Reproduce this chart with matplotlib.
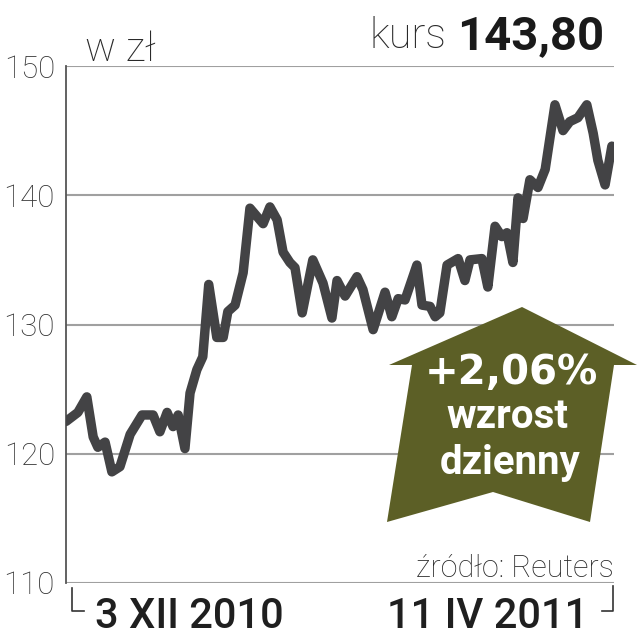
import matplotlib
matplotlib.use("Agg")
import matplotlib.pyplot as plt
from matplotlib.patches import Polygon
from matplotlib.lines import Line2D

# dni od 3 XII 2010 i kurs w zł
days = [0, 2.8, 4.9, 6.4, 7.5, 9.2, 10.8, 12.7, 15.1, 17.9, 20.5, 22.1, 23.8,
        25.2, 26.4, 28.0, 29.2, 30.8, 32.2, 33.6, 35.5, 37.0, 38.1, 39.8,
        41.7, 43.3, 46.4, 48.0, 49.7, 51.1, 52.7, 53.9, 55.6, 58.1, 60.5,
        62.6, 63.8, 65.7, 68.5, 69.9, 72.3, 75.1, 76.7, 78.2, 79.8, 82.6,
        83.8, 85.7, 86.9, 88.0, 89.7, 92.3, 93.9, 95.1, 97.9, 99.3, 101.0,
        102.6, 103.8, 105.2, 106.4, 107.6, 109.2, 111.1, 112.8, 115.1, 117.0,
        118.6, 120.5, 122.6, 124.1, 125.2, 126.9, 128.5]
price = [122.5, 123.2, 124.4, 121.3, 120.5, 120.9, 118.6, 119.0, 121.5, 123.0,
         123.0, 121.7, 123.2, 122.1, 123.0, 120.4, 124.7, 126.5, 127.5, 133.1,
         129.0, 129.0, 131.0, 131.5, 134.0, 139.0, 137.8, 139.1, 138.1, 135.6,
         134.8, 134.4, 130.9, 135.0, 133.2, 130.5, 133.4, 132.2, 133.7, 132.7,
         129.6, 132.5, 130.6, 132.0, 131.9, 134.6, 131.5, 131.4, 130.6, 130.9,
         134.6, 135.1, 133.4, 135.0, 135.1, 132.9, 137.6, 136.8, 137.1, 134.8,
         139.8, 138.2, 141.2, 140.6, 142.0, 147.0, 145.0, 145.7, 146.0, 147.0,
         144.8, 142.7, 140.8, 143.8]
yticks = [110, 120, 130, 140, 150]
last_price = "143,80"
change = "+2,06%"
start_label = "3 XII 2010"
end_label = "11 IV 2011"

W, H = 637, 640
fig = plt.figure(figsize=(W / 100, H / 100), dpi=100)


def fx(x):
    return x / W


def fy(y):
    return 1 - y / H


ax = fig.add_axes([fx(66), 57 / H, 548 / W, 517 / H])
ax.plot(days, price, color="#434345", lw=6.8, solid_joinstyle="round",
        solid_capstyle="round", zorder=3)
ax.set_xlim(0, 129)
ax.set_ylim(110, 150)
ax.set_yticks(yticks)
ax.set_xticks([])
ax.yaxis.grid(True, color="#a0a0a0", lw=1.5)
ax.set_axisbelow(True)
for s in ["top", "right", "bottom"]:
    ax.spines[s].set_visible(False)
ax.spines["left"].set_color("#555555")
ax.spines["left"].set_linewidth(1.3)
ax.tick_params(axis="y", length=0, pad=8)
for lab in ax.get_yticklabels():
    lab.set_fontfamily("Roboto")
    lab.set_fontweight("light")
    lab.set_fontsize(22.5)
    lab.set_color("#333333")

light = dict(fontfamily="Roboto", fontweight="light", color="#2a2a2a")
fig.text(fx(85), fy(61), "w zł", fontsize=29.5, va="baseline", **light)
fig.text(fx(446), fy(48), "kurs", fontsize=30, ha="right", va="baseline", **light)
fig.text(fx(604), fy(49), last_price, fontsize=34, ha="right", va="baseline",
         fontfamily="Roboto", fontweight="bold", color="#1a1a1a")
fig.text(fx(614), fy(577), "źródło: Reuters", fontsize=22, ha="right",
         va="baseline", **light)
fig.text(fx(95), fy(628), start_label, fontsize=30, va="baseline",
         fontfamily="Roboto", fontweight="medium", color="#1f1f1f")
fig.text(fx(588), fy(628), end_label, fontsize=30, ha="right", va="baseline",
         fontfamily="Roboto", fontweight="medium", color="#1f1f1f")

# nawiasy przy datach
fig.add_artist(Line2D([fx(72), fx(72), fx(84)], [fy(588), fy(611), fy(611)],
                      color="#333333", lw=1.2))
fig.add_artist(Line2D([fx(602), fx(613), fx(613)], [fy(611), fy(611), fy(586)],
                      color="#333333", lw=1.2))

# strzałka
arrow = [(522, 307), (637, 365), (614, 365), (590, 522), (493, 492),
         (387, 522), (412, 365), (389, 365)]
fig.add_artist(Polygon([(fx(x), fy(y)) for x, y in arrow], closed=True,
                       facecolor="#5c5f26", edgecolor="none",
                       transform=fig.transFigure, zorder=5))
fig.text(fx(511), fy(384), change, fontsize=29, ha="center", va="baseline",
         fontfamily="DejaVu Sans", fontweight="bold", color="white", zorder=6)
fig.text(fx(507), fy(428), "wzrost", fontsize=29, ha="center", va="baseline",
         fontfamily="Roboto", fontweight="bold", color="white", zorder=6)
fig.text(fx(510), fy(474), "dzienny", fontsize=29, ha="center", va="baseline",
         fontfamily="Roboto", fontweight="bold", color="white", zorder=6)

fig.savefig("out.png", dpi=100)
